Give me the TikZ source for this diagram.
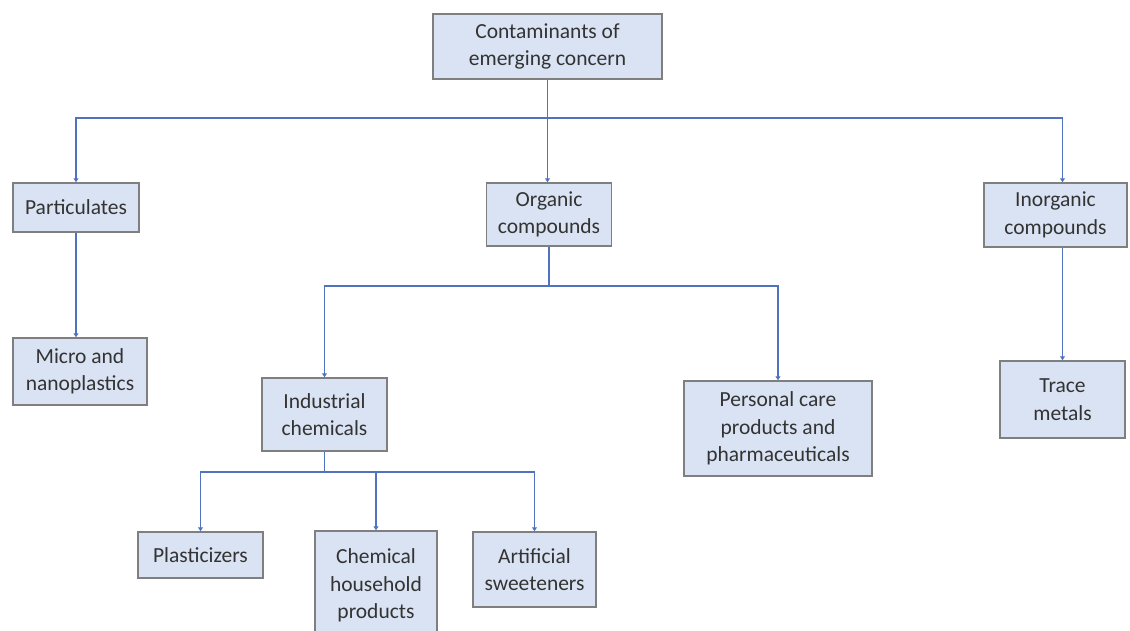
\documentclass[tikz,border=0pt]{standalone}
\usepackage{fontspec}
\setmainfont{Carlito}
\usetikzlibrary{arrows.meta}
\definecolor{boxfill}{HTML}{DAE3F3}
\definecolor{boxdraw}{HTML}{7F7F7F}
\definecolor{linkcol}{HTML}{4F73BE}
\definecolor{txtcol}{HTML}{333333}
\tikzset{
  cbox/.style={draw=boxdraw, fill=boxfill, line width=1.5pt, inner sep=0pt,
    align=center, text=txtcol, font=\fontsize{21.5}{27.5}\selectfont},
  link/.style={draw=linkcol, line width=1.6pt},
  arr/.style={link, -{Triangle[width=5pt,length=4pt]}}
}
\begin{document}
\begin{tikzpicture}[x=1pt,y=1pt]
\path[use as bounding box, clip] (0,0) rectangle (1130,-630);
\fill[white] (0,0) rectangle (1130,-630);
\node[cbox, minimum width=229pt, minimum height=65pt] (top) at (547.5,-46.5) {Contaminants of\\emerging concern};
\node[cbox, minimum width=126pt, minimum height=49pt] (part) at (76,-207.5) {Particulates};
\node[cbox, minimum width=134pt, minimum height=67pt] (micro) at (80,-371.5) {Micro and\\nanoplastics};
\node[cbox, minimum width=125pt, minimum height=63pt] (org) at (549,-214.5) {Organic\\compounds};
\node[cbox, minimum width=143pt, minimum height=64pt] (inorg) at (1055.5,-215) {Inorganic\\compounds};
\node[cbox, minimum width=125pt, minimum height=73pt] (indus) at (324.5,-414.5) {Industrial\\chemicals};
\node[cbox, minimum width=188pt, minimum height=95pt] (pers) at (778,-428.5) {Personal care\\products and\\pharmaceuticals};
\node[cbox, minimum width=125pt, minimum height=77pt] (trace) at (1062.5,-399.5) {Trace\\metals};
\node[cbox, minimum width=125pt, minimum height=46pt] (plast) at (200.5,-555) {Plasticizers};
\node[cbox, minimum width=122pt, minimum height=109pt] (chem) at (376,-585.5) {Chemical\\household\\products};
\node[cbox, minimum width=123pt, minimum height=75pt] (artif) at (534.5,-569.5) {Artificial\\sweeteners};
\coordinate (bus1) at (0,-118);
\coordinate (bus2) at (0,-286);
\coordinate (bus3) at (0,-472);
% level 1
\draw[arr] (top.south) -- (top.south |- org.north);
\draw[arr] (top.south |- bus1) -| (part.north);
\draw[arr] (top.south |- bus1) -| (inorg.north -| trace.north);
% particulates
\draw[arr] (part.south) -- (part.south |- micro.north);
% inorganic
\draw[arr] (inorg.south -| trace.north) -- (trace.north);
% organic
\draw[link] (org.south) -- (org.south |- bus2);
\draw[arr] (org.south |- bus2) -| (indus.north);
\draw[arr] (org.south |- bus2) -| (pers.north);
% industrial
\draw[link] (indus.south) -- (indus.south |- bus3);
\draw[arr] (indus.south |- bus3) -| (plast.north);
\draw[arr] (indus.south |- bus3) -| (chem.north);
\draw[arr] (indus.south |- bus3) -| (artif.north);
\end{tikzpicture}
\end{document}
